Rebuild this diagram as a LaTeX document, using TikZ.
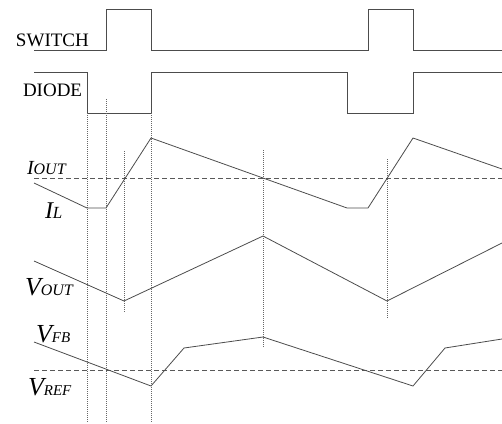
\documentclass[tikz,border=0pt]{standalone}
\usepackage{fontspec}
\setmainfont{Liberation Serif}
\newcommand{\sig}[4]{{\itshape\fontsize{#1}{#1}\selectfont #3}{\itshape\fontsize{#2}{#2}\selectfont #4}}
\begin{document}
\begin{tikzpicture}[
            x=1pt, y=-1pt,
            wave/.style={draw=black!70, line width=0.8pt},
            guide/.style={draw=black!60, line width=0.5pt, dash pattern=on 1pt off 1pt},
            level/.style={draw=black!65, line width=0.8pt, dash pattern=on 5pt off 3pt},
            lbl/.style={anchor=base west, inner sep=0pt, outer sep=0pt}
        ]
            \useasboundingbox (0,0) rectangle (502,423);
            % logic signals
            \node[lbl, font=\fontsize{19}{19}\selectfont] (switch) at (16,46) {SWITCH};
            \node[lbl, font=\fontsize{19}{19}\selectfont] (diode) at (23,96) {DIODE};
            \draw[wave] (34,50) -- (106,50) -- (106,9) -- (151,9) -- (151,50)
                -- (368,50) -- (368,9) -- (413,9) -- (413,50) -- (502,50);
            \draw[wave] (34,72) -- (87,72) -- (87,113) -- (151,113) -- (151,72)
                -- (347,72) -- (347,113) -- (413,113) -- (413,72) -- (502,72);
            % timing marks
            \draw[guide] (87,113) -- (87,423);
            \draw[guide] (106,99) -- (106,423);
            \draw[guide] (151,113) -- (151,423);
            \draw[guide] (124,151) -- (124,313);
            \draw[guide] (263,150) -- (263,348);
            \draw[guide] (387,159) -- (387,318);
            % inductor current
            \draw[level] (34,178) -- (502,178);
            \node[lbl] (iout) at (27,174) {\sig{20}{16}{I}{OUT}};
            \node[lbl] (il) at (45,218) {\sig{24}{17}{I}{L}};
            \draw[wave] (34,183) -- (87,208) -- (106,208) -- (151,138) -- (347,208)
                -- (368,208) -- (413,138) -- (502,169);
            % output voltage
            \node[lbl] (vout) at (25,295) {\sig{26}{16}{V}{OUT}};
            \draw[wave] (34,261) -- (124,301) -- (263,236) -- (387,301) -- (502,243);
            % feedback
            \draw[level] (34,370) -- (502,370);
            \node[lbl] (vfb) at (36,342) {\sig{26}{15}{V}{FB}};
            \node[lbl] (vref) at (28,395) {\sig{26}{15}{V}{REF}};
            \draw[wave] (34,342) -- (151,386) -- (184,348) -- (263,337) -- (413,386)
                -- (445,348) -- (502,339);
\end{tikzpicture}
\end{document}
